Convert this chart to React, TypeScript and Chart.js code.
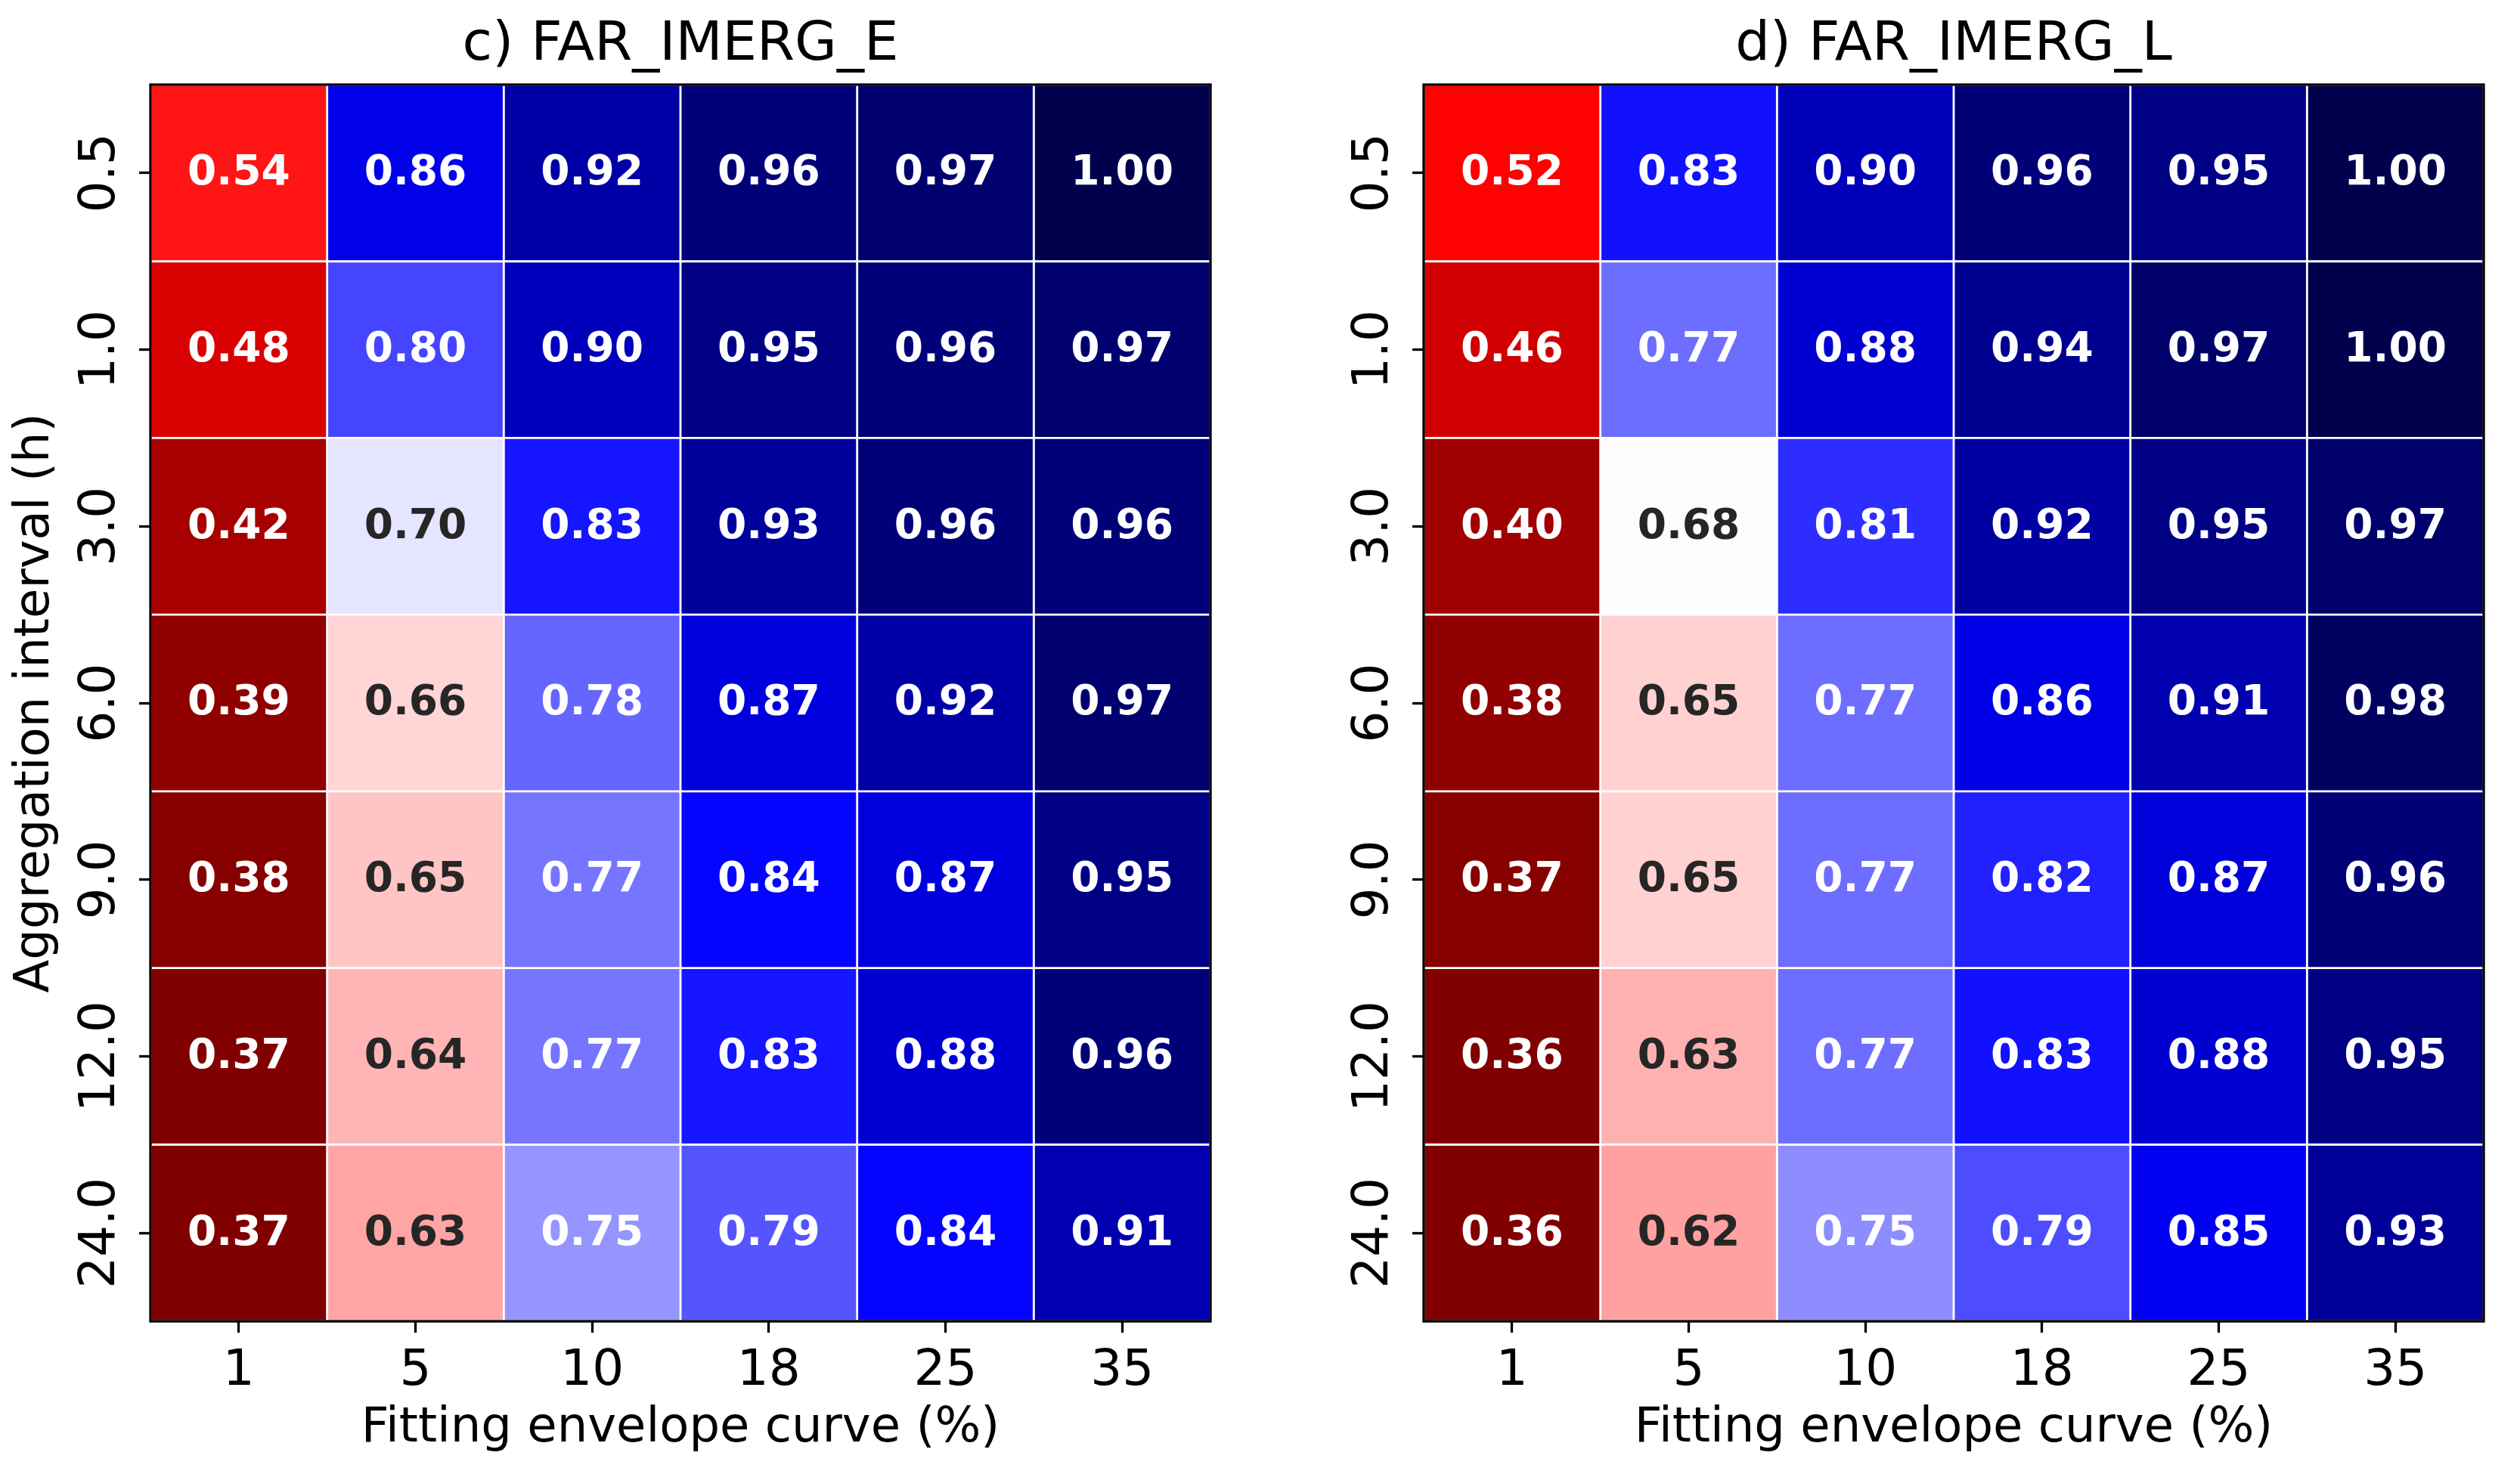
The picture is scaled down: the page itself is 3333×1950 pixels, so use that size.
import React, { useEffect, useRef } from "react";
import { Chart, registerables } from "chart.js";

Chart.register(...registerables);

// ---- data ----
const colLabels = ["1", "5", "10", "18", "25", "35"];
const rowLabels = ["0.5", "1.0", "3.0", "6.0", "9.0", "12.0", "24.0"];

const farImergE: number[][] = [
  [0.54, 0.86, 0.92, 0.96, 0.97, 1.0],
  [0.48, 0.8, 0.9, 0.95, 0.96, 0.97],
  [0.42, 0.7, 0.83, 0.93, 0.96, 0.96],
  [0.39, 0.66, 0.78, 0.87, 0.92, 0.97],
  [0.38, 0.65, 0.77, 0.84, 0.87, 0.95],
  [0.37, 0.64, 0.77, 0.83, 0.88, 0.96],
  [0.37, 0.63, 0.75, 0.79, 0.84, 0.91],
];

const farImergL: number[][] = [
  [0.52, 0.83, 0.9, 0.96, 0.95, 1.0],
  [0.46, 0.77, 0.88, 0.94, 0.97, 1.0],
  [0.4, 0.68, 0.81, 0.92, 0.95, 0.97],
  [0.38, 0.65, 0.77, 0.86, 0.91, 0.98],
  [0.37, 0.65, 0.77, 0.82, 0.87, 0.96],
  [0.36, 0.63, 0.77, 0.83, 0.88, 0.95],
  [0.36, 0.62, 0.75, 0.79, 0.85, 0.93],
];

const FONT = "DejaVu Sans";

// matplotlib "seismic" colormap nodes (reversed when used)
const seismicNodes = [
  [0.0, 0.0, 0.3],
  [0.0, 0.0, 1.0],
  [1.0, 1.0, 1.0],
  [1.0, 0.0, 0.0],
  [0.5, 0.0, 0.0],
];

function seismicR(t: number): number[] {
  const tt = Math.max(0, Math.min(1, t));
  const idx = Math.min(255, Math.floor(tt * 256));
  const x = 1 - idx / 255;
  const pos = x * 4;
  const i = Math.min(3, Math.floor(pos));
  const f = pos - i;
  const a = seismicNodes[i];
  const b = seismicNodes[i + 1];
  return [0, 1, 2].map((k) => a[k] + (b[k] - a[k]) * f);
}

function toCss(c: number[]): string {
  return `rgb(${Math.round(c[0] * 255)},${Math.round(c[1] * 255)},${Math.round(c[2] * 255)})`;
}

function relLum(c: number[]): number {
  const lin = c.map((v) => (v <= 0.03928 ? v / 12.92 : Math.pow((v + 0.055) / 1.055, 2.4)));
  return lin[0] * 0.2126 + lin[1] * 0.7152 + lin[2] * 0.0722;
}

type PanelProps = {
  title: string;
  values: number[][];
  left: number;
  width: number;
  axisWidth: number;
  padRight: number;
  showYTitle: boolean;
};

function Panel({ title, values, left, width, axisWidth, padRight, showYTitle }: PanelProps) {
  const ref = useRef<HTMLCanvasElement>(null);

  useEffect(() => {
    if (!ref.current) return;
    const flat = values.flat();
    const vmin = Math.min(...flat);
    const vmax = Math.max(...flat);
    const colorOf = (v: number) => seismicR((v - vmin) / (vmax - vmin));

    const datasets = rowLabels.map((rl, i) => ({
      label: rl,
      data: values[i].map(() => [i, i + 1]),
      backgroundColor: values[i].map((v) => toCss(colorOf(v))),
      borderColor: "#ffffff",
      borderWidth: 1.75,
      borderSkipped: false as const,
      grouped: false,
      barPercentage: 1,
      categoryPercentage: 1,
    }));

    const annotPlugin = {
      id: "annot",
      afterDatasetsDraw(chart: any) {
        const ctx = chart.ctx;
        ctx.save();
        ctx.font = `bold 55px "${FONT}"`;
        ctx.textAlign = "center";
        ctx.textBaseline = "alphabetic";
        chart.data.datasets.forEach((_ds: any, i: number) => {
          const meta = chart.getDatasetMeta(i);
          meta.data.forEach((el: any, j: number) => {
            const v = values[i][j];
            const c = colorOf(v);
            const p = el.getCenterPoint();
            ctx.fillStyle = relLum(c) > 0.408 ? "rgb(38,38,38)" : "#ffffff";
            ctx.fillText(v.toFixed(2), p.x, p.y - 4.6 + 0.3645 * 55);
          });
        });
        // frame (axes spines)
        const a = chart.chartArea;
        ctx.strokeStyle = "#000000";
        ctx.lineWidth = 3.3;
        ctx.strokeRect(a.left, a.top, a.right - a.left, a.bottom - a.top);
        ctx.restore();
      },
    };

    const chart = new Chart(ref.current, {
      type: "bar",
      data: { labels: colLabels, datasets: datasets as any },
      plugins: [annotPlugin],
      options: {
        responsive: false,
        maintainAspectRatio: false,
        animation: false,
        devicePixelRatio: 1,
        layout: { padding: { left: 0, right: padRight, top: 0, bottom: 0 } },
        plugins: {
          legend: { display: false },
          tooltip: { enabled: false },
          title: {
            display: true,
            text: title,
            fullSize: false,
            color: "#000000",
            font: { family: FONT, size: 72, weight: "normal" },
            padding: { top: 16.8, bottom: 8.8 },
          },
        },
        scales: {
          x: {
            type: "category",
            offset: true,
            grid: {
              display: true,
              drawOnChartArea: false,
              drawTicks: true,
              tickLength: 15,
              tickWidth: 3.3,
              tickColor: "#000000",
              offset: false,
            },
            border: { display: false },
            ticks: {
              color: "#000000",
              font: { family: FONT, size: 66 },
              padding: 12,
              minRotation: 0,
              maxRotation: 0,
              autoSkip: false,
            },
            title: {
              display: true,
              text: "Fitting envelope curve (%)",
              color: "#000000",
              font: { family: FONT, size: 64 },
              padding: { top: 0, bottom: 21 },
            },
            afterFit: (s: any) => {
              s.height = 202;
            },
          },
          y: {
            type: "linear",
            min: 0,
            max: 7,
            reverse: true,
            bounds: "data",
            afterBuildTicks: (s: any) => {
              s.ticks = rowLabels.map((_r, i) => ({ value: i + 0.5 }));
            },
            grid: {
              display: true,
              drawOnChartArea: false,
              drawTicks: true,
              tickLength: 15,
              tickWidth: 3.3,
              tickColor: "#000000",
            },
            border: { display: false },
            ticks: {
              color: "#000000",
              font: { family: FONT, size: 66 },
              minRotation: 90,
              maxRotation: 90,
              crossAlign: "center",
              padding: -23.5,
              autoSkip: false,
              callback: (_v: any, idx: number) => rowLabels[idx],
            },
            title: {
              display: showYTitle,
              text: "Aggregation interval (h)",
              color: "#000000",
              font: { family: FONT, size: 64 },
              padding: { top: 8.5, bottom: 0 },
            },
            afterFit: (s: any) => {
              s.width = axisWidth;
            },
          },
        },
      } as any,
    });
    return () => chart.destroy();
  }, [title, values, left, width, axisWidth, padRight, showYTitle]);

  return (
    <canvas
      ref={ref}
      width={width}
      height={1950}
      style={{ position: "absolute", left, top: 0, width, height: 1950 }}
    />
  );
}

export default function App() {
  return (
    <div
      style={{
        position: "absolute",
        left: 0,
        top: 0,
        width: 3333,
        height: 1950,
        background: "#ffffff",
        overflow: "hidden",
      }}
    >
      <Panel title="c) FAR_IMERG_E" values={farImergE} left={0} width={1700} axisWidth={199} padRight={99} showYTitle={true} />
      <Panel title="d) FAR_IMERG_L" values={farImergL} left={1700} width={1633} axisWidth={183} padRight={48} showYTitle={false} />
    </div>
  );
}
